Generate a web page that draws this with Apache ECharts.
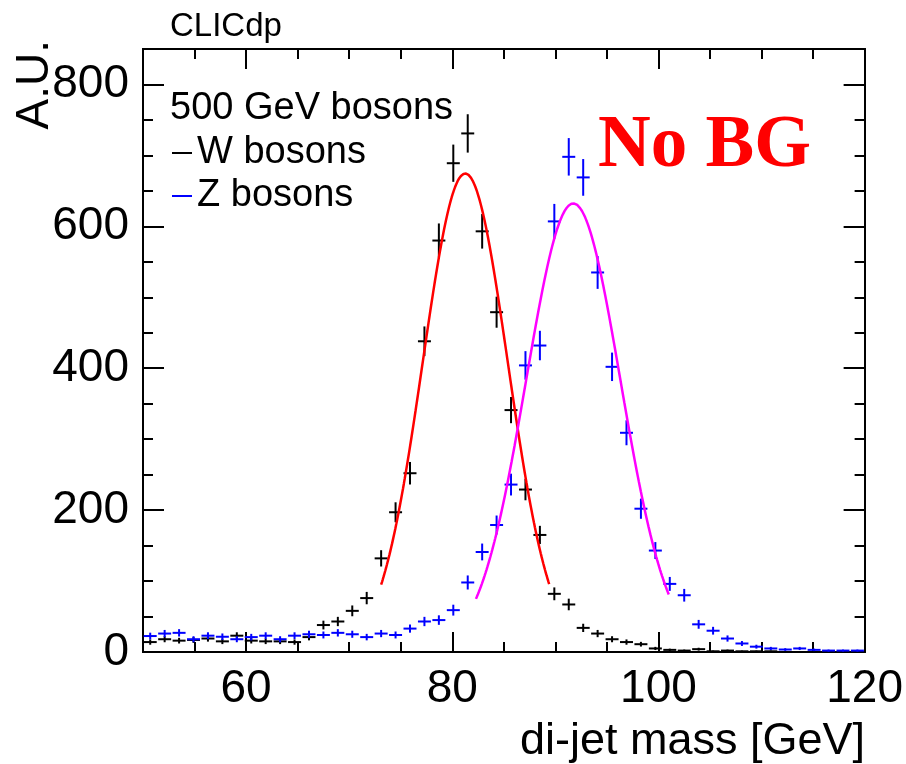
<!DOCTYPE html>
<html>
<head>
<meta charset="utf-8">
<script src="https://cdn.jsdelivr.net/npm/echarts@6/dist/echarts.min.js"></script>
<style>
  html, body { margin: 0; padding: 0; background: #fff; }
  #chart { width: 906px; height: 764px; }
</style>
</head>
<body>
<div id="chart"></div>
<script>
// Histogram binning of the di-jet mass (GeV)
const HIST_MIN = 50;
const HIST_MAX = 120;
const N_BINS = 50;
const BIN_WIDTH = (HIST_MAX - HIST_MIN) / N_BINS;

// Bin contents (A.U.), one entry per bin
const wBosons = [14, 18, 16, 17, 19, 15, 23, 16, 15, 15,
                 14, 21, 38, 43, 58, 76, 132, 197, 252, 438,
                 580, 689, 731, 593, 479, 341, 229, 165, 82, 67,
                 34, 26, 18, 14, 11, 5, 3, 2, 4, 1,
                 2, 1, 1, 1, 0, 0, 0, 0, 0, 0];
const zBosons = [22.5, 26, 27, 18, 23, 21.5, 18, 21, 23, 18,
                 23, 25, 24, 27, 25, 21, 26, 24, 33, 43,
                 45, 59, 98, 141, 179, 236, 404, 432, 607, 698,
                 669, 535, 402, 309, 202, 143, 96, 80, 39, 30,
                 19, 12, 7.5, 5, 3.5, 5, 3, 2, 2, 2];

// Gaussian fits: amplitude, mean, sigma, fit range
const wFit = { amp: 674.5, mean: 81.26, sigma: 4.12, from: 73.1, to: 89.4 };
const zFit = { amp: 632.3, mean: 91.74, sigma: 4.57, from: 82.3, to: 101.0 };

// Axis ticks and labels
const xMajorTicks = [60, 80, 100, 120];
const yMajorTicks = [0, 200, 400, 600, 800];
const X_MINOR_STEP = 5;
const Y_MINOR_STEP = 50;
const Y_MAX = 850;

const FONT = "'Liberation Sans', Arial, Helvetica, sans-serif";

function binCenter(i) { return HIST_MIN + BIN_WIDTH * (i + 0.5); }
function histPoints(values) { return values.map((v, i) => [binCenter(i), v]); }

function gaussCurve(f) {
  const pts = [];
  const steps = 200;
  for (let k = 0; k <= steps; k++) {
    const x = f.from + (f.to - f.from) * k / steps;
    const d = (x - f.mean) / f.sigma;
    pts.push([x, f.amp * Math.exp(-0.5 * d * d)]);
  }
  return pts;
}

// Draws each bin as a cross: horizontal bar over the bin, vertical Poisson error bar
function crossRenderer(color) {
  return function (params, api) {
    const x = api.value(0), y = api.value(1);
    const err = Math.sqrt(Math.max(y, 0));
    const half = BIN_WIDTH * 0.45;
    const l = api.coord([x - half, y]);
    const r = api.coord([x + half, y]);
    const t = api.coord([x, y + err]);
    const b = api.coord([x, y - err]);
    return {
      type: 'group',
      children: [
        { type: 'line', shape: { x1: l[0], y1: l[1], x2: r[0], y2: r[1] },
          style: { stroke: color, lineWidth: 2 } },
        { type: 'line', shape: { x1: t[0], y1: t[1], x2: b[0], y2: b[1] },
          style: { stroke: color, lineWidth: 2 } }
      ]
    };
  };
}

const axisLine = { show: true, onZero: false, lineStyle: { color: '#000', width: 2 } };

function xAxisDef(position, major, showLabels) {
  const a = {
    type: 'value', min: HIST_MIN, max: HIST_MAX, position: position,
    axisLine: axisLine, splitLine: { show: false },
    axisTick: { show: true, inside: true, length: major ? 20 : 10,
                lineStyle: { color: '#000', width: 2 } },
    axisLabel: { show: false }
  };
  if (major) {
    a.axisTick.customValues = xMajorTicks;
    a.axisLabel = { show: showLabels, customValues: xMajorTicks, margin: 14,
                    color: '#000', fontSize: 46, fontFamily: FONT };
  } else {
    a.interval = X_MINOR_STEP;
  }
  return a;
}

function yAxisDef(position, major, showLabels) {
  const a = {
    type: 'value', min: 0, max: Y_MAX, position: position,
    axisLine: axisLine, splitLine: { show: false },
    axisTick: { show: true, inside: true, length: major ? 21 : 10,
                lineStyle: { color: '#000', width: 2 } },
    axisLabel: { show: false }
  };
  if (major) {
    a.axisTick.customValues = yMajorTicks;
    a.axisLabel = { show: showLabels, customValues: yMajorTicks, margin: 14,
                    color: '#000', fontSize: 46, fontFamily: FONT };
  } else {
    a.interval = Y_MINOR_STEP;
  }
  return a;
}

const chart = echarts.init(document.getElementById('chart'), null, { renderer: 'canvas' });

chart.setOption({
  animation: false,
  backgroundColor: '#fff',
  grid: { left: 143, top: 49, width: 722, height: 603, containLabel: false },
  xAxis: [
    xAxisDef('bottom', true, true),
    xAxisDef('bottom', false, false),
    xAxisDef('top', true, false),
    xAxisDef('top', false, false)
  ],
  yAxis: [
    yAxisDef('left', true, true),
    yAxisDef('left', false, false),
    yAxisDef('right', true, false),
    yAxisDef('right', false, false)
  ],
  legend: {
    orient: 'vertical', left: 172, top: 134, padding: 0, itemWidth: 20, itemHeight: 2,
    itemGap: 5, icon: 'rect', selectedMode: false,
    textStyle: { fontSize: 38, lineHeight: 38, fontFamily: FONT, color: '#000' },
    data: [
      { name: 'W bosons', itemStyle: { color: '#000' } },
      { name: 'Z bosons', itemStyle: { color: '#0000ff' } }
    ]
  },
  graphic: [
    { type: 'text', left: 170, top: 10,
      style: { text: 'CLICdp', fontSize: 33, fontFamily: FONT, fill: '#000' } },
    { type: 'text', left: 170, top: 90,
      style: { text: '500 GeV bosons', fontSize: 38, fontFamily: FONT, fill: '#000' } },
    { type: 'text', x: 598, y: 184,
      style: { text: 'No BG', fontSize: 73, fontWeight: 'bold',
               fontFamily: "'Liberation Serif', 'Times New Roman', serif",
               fill: '#ff0000', verticalAlign: 'bottom' } },
    { type: 'text', x: 35, y: 40, rotation: Math.PI / 2,
      style: { text: 'A.U.', fontSize: 46, fontFamily: FONT, fill: '#000',
               align: 'right', verticalAlign: 'middle' } },
    { type: 'text', x: 865, y: 742,
      style: { text: 'di-jet mass [GeV]', fontSize: 45, fontFamily: FONT, fill: '#000',
               align: 'right', verticalAlign: 'middle' } }
  ],
  series: [
    { name: 'W bosons', type: 'custom', xAxisIndex: 0, yAxisIndex: 0, clip: true,
      itemStyle: { color: '#000' },
      renderItem: crossRenderer('#000'), data: histPoints(wBosons), z: 2 },
    { name: 'W fit', type: 'line', xAxisIndex: 0, yAxisIndex: 0, showSymbol: false,
      lineStyle: { color: '#ff0000', width: 2.5 }, data: gaussCurve(wFit), z: 3 },
    { name: 'Z bosons', type: 'custom', xAxisIndex: 0, yAxisIndex: 0, clip: true,
      itemStyle: { color: '#0000ff' },
      renderItem: crossRenderer('#0000ff'), data: histPoints(zBosons), z: 4 },
    { name: 'Z fit', type: 'line', xAxisIndex: 0, yAxisIndex: 0, showSymbol: false,
      lineStyle: { color: '#ff00ff', width: 2.5 }, data: gaussCurve(zFit), z: 5 }
  ]
});
</script>
</body>
</html>
